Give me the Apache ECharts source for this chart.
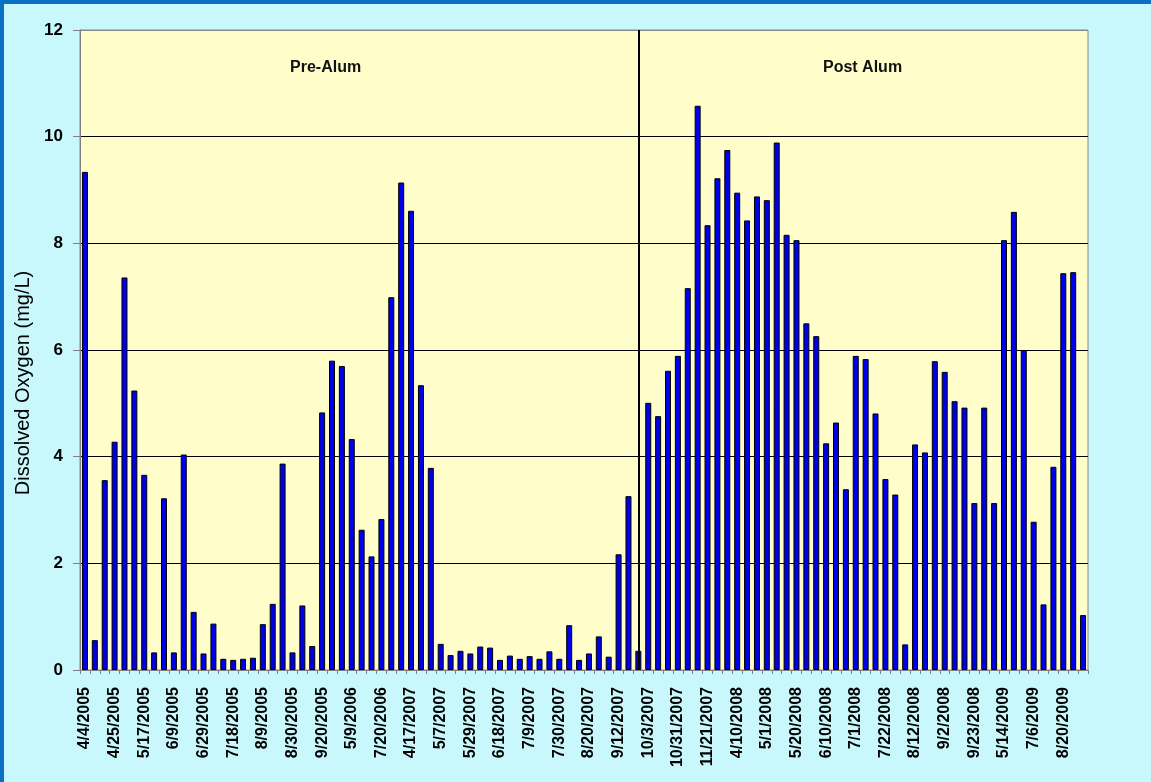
<!DOCTYPE html>
<html>
<head>
<meta charset="utf-8">
<script src="https://cdn.jsdelivr.net/npm/echarts@6/dist/echarts.min.js"></script>
<style>
  html, body {
    margin: 0;
    padding: 0;
  }
  #main {
    width: 1151px;
    height: 782px;
    box-sizing: border-box;
    border-top: 4px solid #0b6fc4;
    border-left: 4px solid #0b6fc4;
    background: #c8f7fc;
  }
</style>
</head>
<body>
<div id="main"></div>
<script>
// labelled sampling dates (every third bar carries a label)
var labelDates = ['4/4/2005', '4/25/2005', '5/17/2005', '6/9/2005', '6/29/2005', '7/18/2005',
  '8/9/2005', '8/30/2005', '9/20/2005', '5/9/2006', '7/20/2006', '4/17/2007',
  '5/7/2007', '5/29/2007', '6/18/2007', '7/9/2007', '7/30/2007', '8/20/2007',
  '9/12/2007', '10/3/2007', '10/31/2007', '11/21/2007', '4/10/2008', '5/1/2008',
  '5/20/2008', '6/10/2008', '7/1/2008', '7/22/2008', '8/12/2008', '9/2/2008',
  '9/23/2008', '5/14/2009', '7/6/2009', '8/20/2009']

// dissolved oxygen, mg/L
var oxygen = [
  9.34, 0.56, 3.56, 4.28, 7.36, 5.24, 3.66, 0.33, 3.22, 0.33,
  4.04, 1.09, 0.31, 0.87, 0.21, 0.19, 0.21, 0.23, 0.86, 1.24,
  3.87, 0.33, 1.21, 0.45, 4.83, 5.80, 5.70, 4.33, 2.63, 2.13,
  2.83, 6.99, 9.14, 8.61, 5.34, 3.79, 0.49, 0.28, 0.36, 0.31,
  0.44, 0.42, 0.19, 0.27, 0.21, 0.26, 0.21, 0.35, 0.21, 0.84,
  0.19, 0.31, 0.63, 0.25, 2.17, 3.26, 0.36, 5.01, 4.76, 5.61,
  5.89, 7.16, 10.58, 8.34, 9.22, 9.75, 8.95, 8.43, 8.88, 8.81,
  9.89, 8.16, 8.06, 6.50, 6.26, 4.25, 4.64, 3.39, 5.89, 5.83,
  4.81, 3.58, 3.29, 0.48, 4.23, 4.08, 5.79, 5.59, 5.04, 4.92,
  3.13, 4.92, 3.13, 8.06, 8.59, 6.00, 2.78, 1.23, 3.81, 7.44,
  7.46, 1.03
]

var yTicks = [0, 2, 4, 6, 8, 10, 12]
var alumIndex = 56
var periodNames = ['Pre-Alum', 'Post Alum']

var categories = []
for (var i = 0; i < oxygen.length; i++) {
  categories.push(i % 3 === 0 ? labelDates[i / 3] : '')
}

var chart = echarts.init(document.getElementById('main'))
var font = '"Liberation Sans", Arial, sans-serif'
var option = {
  animation: false,
  grid: {
    left: 76,
    right: 63,
    top: 26,
    bottom: 112,
    show: true,
    backgroundColor: '#fffdc9',
    borderColor: '#8a8a8a',
    borderWidth: 1
  },
  graphic: [
    {
      type: 'text',
      left: 286,
      top: 56,
      style: { text: periodNames[0], font: 'bold 16px ' + font, fill: '#111' }
    },
    {
      type: 'text',
      left: 819,
      top: 56,
      style: { text: periodNames[1], font: 'bold 16px ' + font, fill: '#111' }
    }
  ],
  xAxis: {
    type: 'category',
    data: categories,
    axisLine: { lineStyle: { color: '#808080', width: 1 } },
    axisTick: {
      show: true,
      interval: 0,
      length: 4,
      lineStyle: { color: '#808080' }
    },
    axisLabel: {
      interval: 2,
      rotate: 90,
      margin: 17,
      color: '#000',
      fontFamily: font,
      fontWeight: 'bold',
      fontSize: 16
    }
  },
  yAxis: {
    type: 'value',
    min: yTicks[0],
    max: yTicks[yTicks.length - 1],
    interval: 2,
    name: 'Dissolved Oxygen (mg/L)',
    nameLocation: 'middle',
    nameGap: 47,
    nameTextStyle: {
      color: '#000',
      fontFamily: font,
      fontSize: 20,
      padding: [0, 66, 0, 0]
    },
    axisLine: { show: true, lineStyle: { color: '#808080' } },
    axisTick: { show: true, length: 7, lineStyle: { color: '#808080' } },
    axisLabel: {
      margin: 17,
      color: '#000',
      fontFamily: font,
      fontWeight: 'bold',
      fontSize: 17
    },
    splitLine: {
      show: true,
      lineStyle: {
        color: ['#000', '#000', '#000', '#000', '#000', '#000', '#8a8a8a'],
        width: 1
      }
    }
  },
  series: [{
    type: 'bar',
    data: oxygen,
    barWidth: 6,
    itemStyle: {
      color: '#0000e8',
      borderColor: '#000',
      borderWidth: 1
    },
    markLine: {
      silent: true,
      symbol: 'none',
      label: { show: false },
      lineStyle: { color: '#000', width: 2, type: 'solid' },
      data: [{ xAxis: alumIndex }]
    }
  }]
}
chart.setOption(option)
</script>
</body>
</html>
